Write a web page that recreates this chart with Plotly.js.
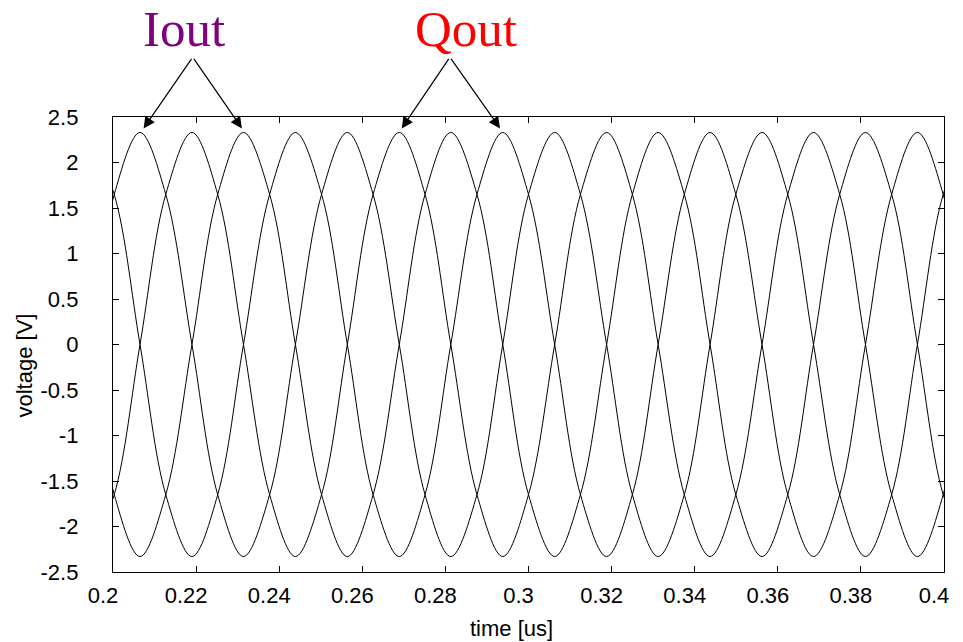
<!DOCTYPE html>
<html>
<head>
<meta charset="utf-8">
<script src="https://cdn.plot.ly/plotly-3.0.1.min.js"></script>
<style>
html,body{margin:0;padding:0;background:#fff;}
#chart{width:963px;height:642px;}
</style>
</head>
<body>
<div id="chart"></div>
<script>
// time samples [us], read at peaks / crossings / half-way points of the waveforms
const time = [0.1940, 0.2003, 0.2065, 0.2127, 0.2190, 0.2252, 0.2314, 0.2377, 0.2439, 0.2502,
              0.2564, 0.2626, 0.2689, 0.2751, 0.2813, 0.2876, 0.2938, 0.3000, 0.3063, 0.3125,
              0.3188, 0.3250, 0.3312, 0.3375, 0.3437, 0.3499, 0.3562, 0.3624, 0.3686, 0.3749,
              0.3811, 0.3874, 0.3936, 0.3998, 0.4061];

// Iout differential pair [V]
const ioutP = [0, 1.65, 2.33, 1.65, 0, -1.65, -2.33, -1.65,
               0, 1.65, 2.33, 1.65, 0, -1.65, -2.33, -1.65,
               0, 1.65, 2.33, 1.65, 0, -1.65, -2.33, -1.65,
               0, 1.65, 2.33, 1.65, 0, -1.65, -2.33, -1.65,
               0, 1.65, 2.33];
const ioutN = [0, -1.65, -2.33, -1.65, 0, 1.65, 2.33, 1.65,
               0, -1.65, -2.33, -1.65, 0, 1.65, 2.33, 1.65,
               0, -1.65, -2.33, -1.65, 0, 1.65, 2.33, 1.65,
               0, -1.65, -2.33, -1.65, 0, 1.65, 2.33, 1.65,
               0, -1.65, -2.33];
// Qout differential pair [V]
const qoutP = [-2.33, -1.65, 0, 1.65, 2.33, 1.65, 0, -1.65,
               -2.33, -1.65, 0, 1.65, 2.33, 1.65, 0, -1.65,
               -2.33, -1.65, 0, 1.65, 2.33, 1.65, 0, -1.65,
               -2.33, -1.65, 0, 1.65, 2.33, 1.65, 0, -1.65,
               -2.33, -1.65, 0];
const qoutN = [2.33, 1.65, 0, -1.65, -2.33, -1.65, 0, 1.65,
               2.33, 1.65, 0, -1.65, -2.33, -1.65, 0, 1.65,
               2.33, 1.65, 0, -1.65, -2.33, -1.65, 0, 1.65,
               2.33, 1.65, 0, -1.65, -2.33, -1.65, 0, 1.65,
               2.33, 1.65, 0];

const xTickVals = [0.2, 0.22, 0.24, 0.26, 0.28, 0.3, 0.32, 0.34, 0.36, 0.38, 0.4];
const xTickText = ["0.2", "0.22", "0.24", "0.26", "0.28", "0.3", "0.32", "0.34", "0.36", "0.38", "0.4"];
const yTickVals = [-2.5, -2, -1.5, -1, -0.5, 0, 0.5, 1, 1.5, 2, 2.5];
const yTickText = ["-2.5", "-2", "-1.5", "-1", "-0.5", "0", "0.5", "1", "1.5", "2", "2.5"];

const xTitle = "time [us]";
const yTitle = "voltage [V]";
const iLabel = "Iout";
const qLabel = "Qout";
// arrow tips (data coords) at the labelled peaks
const iArrowX = [0.20736, 0.23102];
const qArrowX = [0.26950, 0.29315];
const arrowY = 2.375;

function trace(y, name) {
  return {x: time, y: y, type: 'scatter', mode: 'lines', name: name,
          line: {color: '#000000', width: 1, shape: 'spline', smoothing: 1},
          hoverinfo: 'x+y'};
}

const data = [trace(ioutP, 'Iout+'), trace(qoutP, 'Qout+'), trace(ioutN, 'Iout-'), trace(qoutN, 'Qout-')];

const tickFont = {family: 'Liberation Sans, Arial, sans-serif', size: 22, color: '#000'};

function arrow(x, ax) {
  return {x: x, y: arrowY, xref: 'x', yref: 'y', text: '', showarrow: true,
          ax: ax, ay: -71, axref: 'pixel', ayref: 'pixel',
          arrowhead: 2, arrowsize: 1.9, arrowwidth: 1.2, arrowcolor: '#000',
          standoff: 0, startstandoff: 0};
}

// paper y that corresponds to the very top pixel row of the figure
const topY = 1 + 117 / 455;

const layout = {
  width: 963, height: 642,
  margin: {l: 113, r: 19, t: 117, b: 70, pad: 0},
  paper_bgcolor: '#fff', plot_bgcolor: '#fff',
  showlegend: false,
  xaxis: {
    range: [0.2, 0.4], tickvals: xTickVals, ticktext: xTickText,
    ticks: 'inside', ticklen: 6, tickwidth: 1, tickcolor: '#000',
    showline: true, linecolor: '#000', linewidth: 1.2, mirror: 'ticks',
    showgrid: false, zeroline: false, tickfont: tickFont,
    ticklabelstandoff: 3, ticklabelshift: -10
  },
  yaxis: {
    range: [-2.5, 2.5], tickvals: yTickVals, ticktext: yTickText,
    ticks: 'inside', ticklen: 6, tickwidth: 1, tickcolor: '#000',
    showline: true, linecolor: '#000', linewidth: 1.2, mirror: 'ticks',
    showgrid: false, zeroline: false, tickfont: tickFont,
    ticklabelstandoff: 29
  },
  annotations: [
    {text: xTitle, xref: 'paper', yref: 'paper', x: 0.479, y: -0.124,
     xanchor: 'center', yanchor: 'middle', showarrow: false, font: tickFont},
    {text: yTitle, xref: 'paper', yref: 'paper', x: -0.107, y: 0.454, textangle: -90,
     xanchor: 'center', yanchor: 'middle', showarrow: false, font: tickFont},
    {text: iLabel, xref: 'paper', yref: 'paper', x: 0.0854, y: topY - 0.001,
     xanchor: 'center', yanchor: 'top', showarrow: false, borderpad: 0,
     font: {family: 'Liberation Serif, Times New Roman, serif', size: 51, color: '#800080'}},
    {text: qLabel, xref: 'paper', yref: 'paper', x: 0.4248, y: topY - 0.001,
     xanchor: 'center', yanchor: 'top', showarrow: false, borderpad: 0,
     font: {family: 'Liberation Serif, Times New Roman, serif', size: 51, color: '#ff0000'}},
    arrow(iArrowX[0], 49), arrow(iArrowX[1], -49),
    arrow(qArrowX[0], 48), arrow(qArrowX[1], -50)
  ]
};

Plotly.newPlot('chart', data, layout, {staticPlot: true, displayModeBar: false});
</script>
</body>
</html>
